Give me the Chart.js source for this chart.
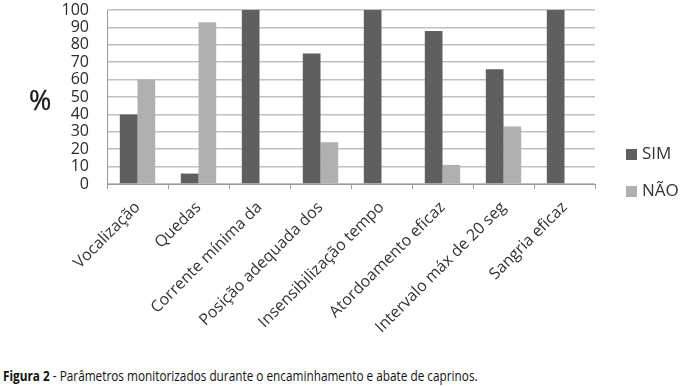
<!DOCTYPE html>
<html>
<head>
<meta charset="utf-8">
<script src="https://cdn.jsdelivr.net/npm/chart.js@4/dist/chart.umd.min.js"></script>
<style>
    body { margin: 0; background: #fff; }
    #wrap { position: relative; width: 684px; height: 387px; overflow: hidden; font-family: "Open Sans", sans-serif; }
    #chart { position: absolute; left: 0; top: 0; }
    .pct { position: absolute; left: 29px; top: 81px; font-size: 27px; color: #1a1a1a; -webkit-text-stroke: 0.4px #1a1a1a; }
    .leg { position: absolute; left: 626px; font-size: 17px; color: #333; line-height: 20px; }
    .leg span { display: inline-block; width: 11px; height: 11px; margin-right: 5px; vertical-align: -1px; }
    #caption { position: absolute; left: 3px; top: 366px; font-size: 14px; color: #111; white-space: nowrap; transform-origin: left top; }
</style>
</head>
<body>
<div id="wrap">
    <canvas id="chart" width="684" height="355"></canvas>
    <div class="pct">%</div>
    <div class="leg" style="top: 143px;"><span style="background:#5f5f5f"></span>SIM</div>
    <div class="leg" style="top: 180px;"><span style="background:#b0b0b0"></span>NÃO</div>
    <div id="caption"><b>Figura 2</b> - Parâmetros monitorizados durante o encaminhamento e abate de caprinos.</div>
</div>
<script>
const categories = [
    'Vocalização',
    'Quedas',
    'Corrente mínima da',
    'Posição adequada dos',
    'Insensibilização tempo',
    'Atordoamento eficaz',
    'Intervalo máx de 20 seg',
    'Sangria eficaz',
];
const simValues = [40, 6, 100, 75, 100, 88, 66, 100];
const naoValues = [60, 93, 0, 24, 0, 11, 33, 0];

function getData() {
    return {
        labels: categories,
        datasets: [{
            label: 'SIM',
            data: simValues,
            backgroundColor: '#5f5f5f',
            barPercentage: 1,
            categoryPercentage: 0.58,
        }, {
            label: 'NÃO',
            data: naoValues,
            backgroundColor: '#b0b0b0',
            barPercentage: 1,
            categoryPercentage: 0.58,
        }],
    };
}

function getConfig(data) {
    return {
        type: 'bar',
        data: data,
        options: {
            responsive: false,
            animation: false,
            layout: {
                padding: { left: 0, right: 89, top: 0, bottom: 0 },
            },
            plugins: {
                legend: { display: false },
                tooltip: { enabled: false },
            },
            scales: {
                x: {
                    afterFit: (scale) => { scale.height = 171; },
                    grid: {
                        offset: true,
                        drawOnChartArea: false,
                        drawTicks: true,
                        tickLength: 5,
                        color: '#9a9a9a',
                    },
                    border: { color: '#9a9a9a' },
                    ticks: {
                        autoSkip: false,
                        maxRotation: 45,
                        minRotation: 45,
                        padding: 9,
                        color: '#333',
                        font: { family: 'Open Sans', size: 16 },
                    },
                },
                y: {
                    min: 0,
                    max: 100,
                    afterFit: (scale) => {
                        scale.width = 107;
                        scale.paddingTop = 10;
                        scale.paddingBottom = 0;
                    },
                    grid: {
                        drawTicks: false,
                        color: '#c0c0c0',
                        lineWidth: 1.5,
                    },
                    border: { color: '#9a9a9a' },
                    ticks: {
                        autoSkip: false,
                        stepSize: 10,
                        padding: 18,
                        color: '#2a2a2a',
                        font: { family: 'Open Sans', size: 16 },
                    },
                },
            },
        },
    };
}

new Chart(document.getElementById('chart'), getConfig(getData()));

// squeeze the caption to the condensed width of the original
const cap = document.getElementById('caption');
cap.style.transform = 'scaleX(' + (475 / cap.scrollWidth) + ')';
</script>
</body>
</html>
